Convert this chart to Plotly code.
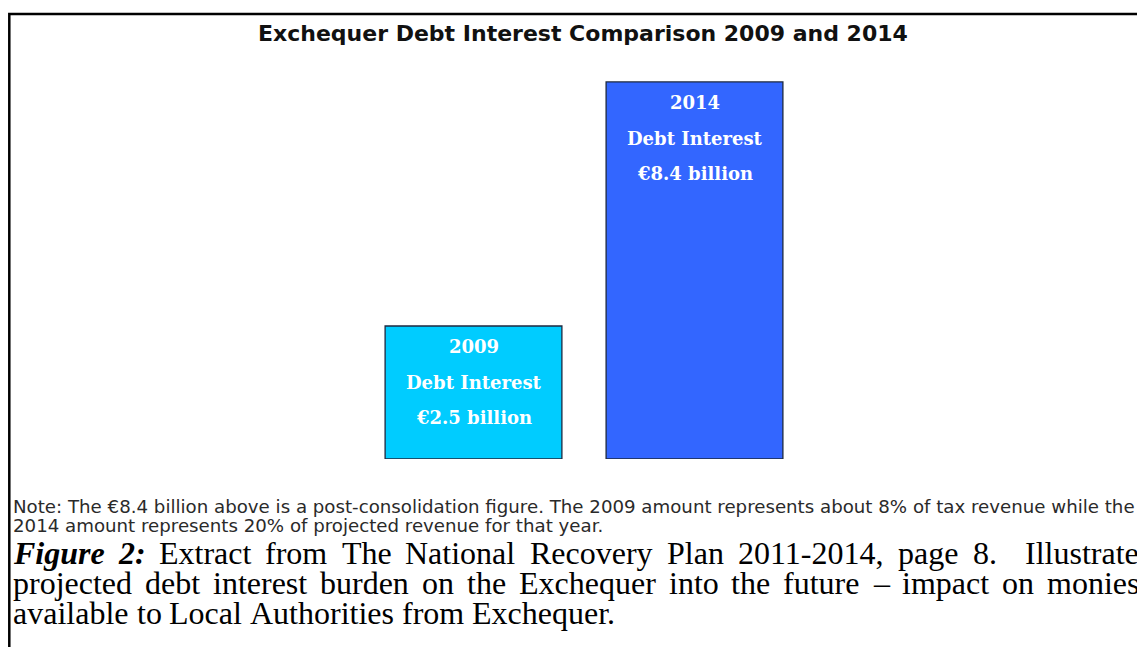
import plotly.graph_objects as go

# data
years = ["2009", "2014"]
debt_interest = [2.5, 8.4]  # EUR billion
bar_labels = ["Debt Interest", "Debt Interest"]
value_labels = ["€2.5 billion", "€8.4 billion"]
bar_colors = ["#00ccff", "#3366ff"]

title_text = "Exchequer Debt Interest Comparison 2009 and 2014"
note_lines = [
    "Note: The €8.4 billion above is a post-consolidation figure. The 2009 amount represents about 8% of tax revenue while the",
    "2014 amount represents 20% of projected revenue for that year.",
]
caption_lines = [
    "*Figure *2: Extract from The National Recovery Plan 2011-2014, page 8.  Illustrate",
    "projected debt interest burden on the Exchequer into the future – impact on monies",
    "available to Local Authorities from Exchequer.",
]

# page is 1145x647, the plot div sits 8px in from the top-left corner
W, H, OFF = 1145, 647, 8
PL, PR, PT, PB = 363, 805, 70, 459   # plot area in page pixels
BASE = -0.716                        # the chart's baseline is not zero
Y_TOP = BASE + (PB - PT) / 41.36


def px_x(px):
    return (px - PL) / (PR - PL)


def px_y(py):
    return (PB - py) / (PB - PT)


# Times New Roman advance widths (Liberation Serif is metric compatible)
TIMES = {" ": 250, "a": 444, "b": 500, "c": 444, "d": 500, "e": 444, "f": 333, "g": 500,
         "h": 500, "i": 278, "j": 278, "k": 500, "l": 278, "m": 778, "n": 500, "o": 500,
         "p": 500, "q": 500, "r": 333, "s": 389, "t": 278, "u": 500, "v": 500, "w": 722,
         "x": 500, "y": 500, "z": 444, "A": 722, "E": 611, "I": 333, "L": 611, "N": 722,
         "P": 556, "R": 667, "T": 611, ",": 250, ".": 250, "-": 333, ":": 278, "–": 500}
TIMES_BI = {"F": 667, "i": 278, "g": 500, "u": 556, "r": 389, "e": 444, "2": 500, ":": 333}
CAP_SIZE = 32


def word_width(w, bold_italic=False):
    table = TIMES_BI if bold_italic else TIMES
    return sum(table.get(c, 500) for c in w) * CAP_SIZE / 1000


fig = go.Figure()
# bars rise from BASE up to their value on the axis
fig.add_trace(go.Bar(
    x=years, y=[v - BASE for v in debt_interest], base=BASE,
    marker=dict(color=bar_colors, line=dict(color="#1c2940", width=1.3)),
    width=0.8, hoverinfo="skip",
))

ann = []
# text inside the bars
for i, (yr, lab, val, v) in enumerate(zip(years, bar_labels, value_labels, debt_interest)):
    for txt, off in ((yr, 21), (lab, 57), (val, 92)):
        ann.append(dict(x=i, y=v, xref="x", yref="y", text="<b>%s</b>" % txt,
                        showarrow=False, yanchor="middle", yshift=-off,
                        font=dict(family="DejaVu Serif", size=18, color="white")))

ann.append(dict(x=px_x(583), y=px_y(33), xref="paper", yref="paper", text="<b>%s</b>" % title_text,
                showarrow=False, xanchor="center", yanchor="middle",
                font=dict(family="DejaVu Sans", size=22, color="#111111")))

for i, line in enumerate(note_lines):
    ann.append(dict(x=px_x(12), y=px_y(507 + 18.5 * i), xref="paper", yref="paper", text=line,
                    showarrow=False, xanchor="left", yanchor="middle", borderpad=0,
                    font=dict(family="DejaVu Sans", size=18.2, color="#2a2a2a")))

# justified caption: place words one by one
LEFT, RIGHT = 12, 1138
for i, line in enumerate(caption_lines):
    yc = px_y(553 + 30 * i)
    parts = line.split(" ")
    words, gaps = [], []
    for p in parts:
        if p == "":
            gaps[-1] += 1
        else:
            words.append(p)
            gaps.append(1)
    gaps = gaps[:-1]
    styled = []
    for w in words:
        bi = w.startswith("*") or (i == 0 and w == "2:")
        styled.append((w.replace("*", ""), bi))
    widths = [word_width(w, bi) for w, bi in styled]
    space = TIMES[" "] * CAP_SIZE / 1000
    extra = 0
    if i < len(caption_lines) - 1:
        extra = (RIGHT - LEFT - sum(widths) - sum(gaps) * space) / sum(gaps)
    x = LEFT
    for k, ((w, bi), wd) in enumerate(zip(styled, widths)):
        txt = "<b><i>%s</i></b>" % w if bi else w
        ann.append(dict(x=px_x(x), y=yc, xref="paper", yref="paper", text=txt,
                        showarrow=False, xanchor="left", yanchor="middle", borderpad=0,
                        font=dict(family="Liberation Serif", size=CAP_SIZE, color="black")))
        if k < len(gaps):
            x += wd + gaps[k] * (space + extra)

# frame: left and top edges only
shapes = [dict(type="path", xref="paper", yref="paper",
               path="M %f,%f L %f,%f L %f,%f" % (px_x(9.3), px_y(H + 2), px_x(9.3), px_y(14),
                                                 px_x(W + 2), px_y(14)),
               line=dict(color="black", width=2.5))]

fig.update_layout(
    width=W - OFF, height=H - OFF, autosize=False,
    margin=dict(l=PL - OFF, r=W - PR, t=PT - OFF, b=H - PB, pad=0),
    paper_bgcolor="white", plot_bgcolor="white",
    showlegend=False, bargap=0.2,
    xaxis=dict(visible=False, type="category", range=[-0.5, 1.5]),
    yaxis=dict(visible=False, range=[BASE, Y_TOP]),
    annotations=ann, shapes=shapes,
)

fig.write_html("out.html")
